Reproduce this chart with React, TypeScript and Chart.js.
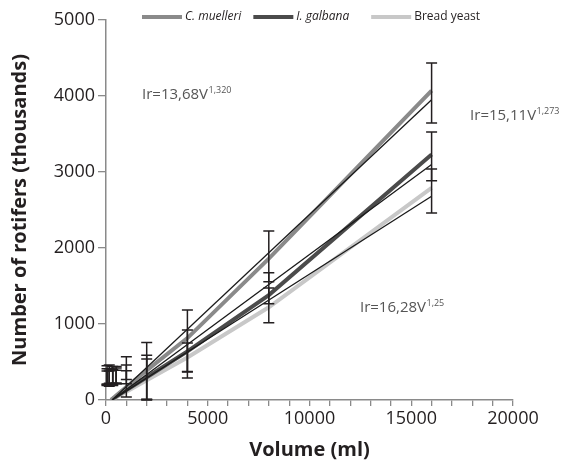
import React, { useEffect, useRef } from 'react';
import { Chart, registerables } from 'chart.js';

Chart.register(...registerables);

// ---- data ----
const seriesLabels = ['C. muelleri', 'I. galbana', 'Bread yeast'];

const volumes = [250, 500, 1000, 2000, 4000, 8000, 16000];
const cMuelleri = [0, 60, 170, 390, 815, 1860, 4070];
const iGalbana = [0, 45, 130, 300, 640, 1380, 3230];
const breadYeast = [0, 35, 110, 260, 560, 1220, 2790];

const fitVolumes = [300, 16000];
const cMuelleriFit = [0, 3950];
const iGalbanaFit = [0, 3100];
const breadYeastFit = [0, 2680];

const errVolumes = [50, 160, 330, 500, 1000, 2000, 4000, 8000, 16000];
const cMuelleriMean = [330, 340, 330, 330, 420, 380, 780, 1890, 4040];
const cMuelleriSd = [120, 120, 110, 110, 150, 375, 405, 335, 395];
const iGalbanaMean = [300, 310, 300, 320, 300, 300, 605, 1470, 3205];
const iGalbanaSd = [110, 100, 100, 100, 85, 290, 315, 205, 320];
const breadYeastMean = [290, 280, 290, 300, 250, 270, 560, 1245, 2750];
const breadYeastSd = [90, 100, 100, 90, 210, 270, 190, 228, 290];

const equations = [
  { text: 'Ir=13,68V', sup: '1,320', x: 1770, y: 3960 },
  { text: 'Ir=15,11V', sup: '1,273', x: 17890, y: 3690 },
  { text: 'Ir=16,28V', sup: '1,25', x: 12480, y: 1160 },
];

const xAxisTitle = 'Volume (ml)';
const yAxisTitle = 'Number of rotifers (thousands)';

// ---- styles ----
const FONT = "'Open Sans', sans-serif";
const seriesColors = ['#8a8a8a', '#4b4b4b', '#c8c8c8'];
const seriesItalic = [true, true, false];
const legendGaps = [12, 22, 0];

const toPoints = (xs: number[], ys: number[]) => xs.map((x, i) => ({ x, y: ys[i] }));

const errorBarPlugin = {
  id: 'errorBars',
  afterDatasetsDraw(chart: any) {
    const { ctx, scales } = chart;
    const xs = scales.x;
    const ys = scales.y;
    const groups = [
      [cMuelleriMean, cMuelleriSd],
      [iGalbanaMean, iGalbanaSd],
      [breadYeastMean, breadYeastSd],
    ];
    ctx.save();
    ctx.strokeStyle = '#231f20';
    ctx.lineWidth = 1.5;
    const cap = 5.5;
    groups.forEach(([means, sds]) => {
      errVolumes.forEach((v, i) => {
        const px = xs.getPixelForValue(v);
        const top = ys.getPixelForValue(means[i] + sds[i]);
        const bot = ys.getPixelForValue(means[i] - sds[i]);
        ctx.beginPath();
        ctx.moveTo(px, top);
        ctx.lineTo(px, bot);
        ctx.moveTo(px - cap, top);
        ctx.lineTo(px + cap, top);
        ctx.moveTo(px - cap, bot);
        ctx.lineTo(px + cap, bot);
        ctx.stroke();
      });
    });
    ctx.restore();
  },
};

const legendAndTextPlugin = {
  id: 'legendAndText',
  afterDraw(chart: any) {
    const { ctx, scales } = chart;
    ctx.save();
    // legend
    let x = 142;
    const y = 17;
    const lineLen = 40;
    seriesLabels.forEach((label, i) => {
      ctx.strokeStyle = seriesColors[i];
      ctx.lineWidth = 4;
      ctx.beginPath();
      ctx.moveTo(x, y);
      ctx.lineTo(x + lineLen, y);
      ctx.stroke();
      ctx.font = `${seriesItalic[i] ? 'italic ' : ''}12px ${FONT}`;
      ctx.fillStyle = '#231f20';
      ctx.textBaseline = 'middle';
      ctx.textAlign = 'left';
      const tx = x + lineLen + 3;
      ctx.fillText(label, tx, y);
      x = tx + ctx.measureText(label).width + legendGaps[i];
    });
    // equations
    equations.forEach((eq) => {
      const px = scales.x.getPixelForValue(eq.x);
      const py = scales.y.getPixelForValue(eq.y);
      ctx.fillStyle = '#555555';
      ctx.textBaseline = 'alphabetic';
      ctx.textAlign = 'left';
      ctx.font = `15px ${FONT}`;
      ctx.fillText(eq.text, px, py);
      const w = ctx.measureText(eq.text).width;
      ctx.font = `9px ${FONT}`;
      ctx.fillText(eq.sup, px + w + 0.5, py - 6);
    });
    ctx.restore();
  },
};

export default function App() {
  const canvasRef = useRef<HTMLCanvasElement | null>(null);

  useEffect(() => {
    if (!canvasRef.current) return;
    const thick = (label: string, data: number[], color: string) => ({
      label,
      data: toPoints(volumes, data),
      borderColor: color,
      backgroundColor: color,
      borderWidth: 4,
      pointRadius: 0,
      fill: false,
      tension: 0,
      order: 2,
    });
    const thin = (label: string, data: number[]) => ({
      label,
      data: toPoints(fitVolumes, data),
      borderColor: '#1a1a1a',
      backgroundColor: '#1a1a1a',
      borderWidth: 1.3,
      pointRadius: 0,
      fill: false,
      tension: 0,
      order: 1,
    });
    const chart = new Chart(canvasRef.current, {
      type: 'line',
      data: {
        datasets: [
          thick(seriesLabels[0], cMuelleri, seriesColors[0]),
          thick(seriesLabels[1], iGalbana, seriesColors[1]),
          thick(seriesLabels[2], breadYeast, seriesColors[2]),
          thin(seriesLabels[0] + ' fit', cMuelleriFit),
          thin(seriesLabels[1] + ' fit', iGalbanaFit),
          thin(seriesLabels[2] + ' fit', breadYeastFit),
        ] as any,
      },
      options: {
        animation: false,
        responsive: false,
        maintainAspectRatio: false,
        layout: { padding: { top: 20, right: 55, left: 0, bottom: 0 } },
        plugins: {
          legend: { display: false },
          tooltip: { enabled: false },
        },
        scales: {
          x: {
            type: 'linear',
            min: 0,
            max: 20000,
            afterFit: (s: any) => { s.height = 63; },
            ticks: {
              stepSize: 1000,
              autoSkip: false,
              maxRotation: 0,
              padding: 2,
              color: '#231f20',
              font: { family: FONT, size: 18 },
              callback: (v: any) => (Number(v) % 5000 === 0 ? String(v) : ''),
            },
            grid: { display: true, drawOnChartArea: false, drawTicks: true, tickLength: 6, color: '#8a8a8a', lineWidth: 1.3 },
            border: { display: true, color: '#8a8a8a', width: 1.5 },
            title: {
              display: true,
              text: xAxisTitle,
              color: '#231f20',
              font: { family: FONT, size: 20, weight: 'bold' },
              padding: { top: 0, bottom: 1 },
            },
          },
          y: {
            type: 'linear',
            min: 0,
            max: 5000,
            afterFit: (s: any) => { s.width = 106; },
            ticks: {
              stepSize: 1000,
              padding: 3,
              color: '#231f20',
              font: { family: FONT, size: 18 },
              callback: (v: any) => String(v),
            },
            grid: { display: true, drawOnChartArea: false, drawTicks: true, tickLength: 8, color: '#8a8a8a', lineWidth: 1.3 },
            border: { display: true, color: '#8a8a8a', width: 1.5 },
            title: {
              display: true,
              text: yAxisTitle,
              color: '#231f20',
              font: { family: FONT, size: 20, weight: 'bold' },
              padding: { top: 8, bottom: 0 },
            },
          },
        },
      },
      plugins: [errorBarPlugin, legendAndTextPlugin],
    });
    return () => chart.destroy();
  }, []);

  return (
    <div style={{ position: 'fixed', left: 0, top: 0, width: 568, height: 463, background: '#fff' }}>
      <canvas ref={canvasRef} width={568} height={463} />
    </div>
  );
}
